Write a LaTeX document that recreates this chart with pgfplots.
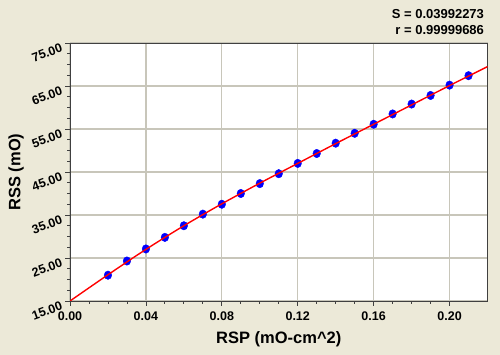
\documentclass[border=0pt]{standalone}
\usepackage{pgfplots}
\pgfplotsset{compat=1.18}
\usepackage{fontspec}
\setmainfont{Liberation Sans}
\definecolor{bgc}{RGB}{236,233,216}
\definecolor{gridc}{RGB}{200,198,186}
\definecolor{framec}{RGB}{64,64,64}
\begin{document}
\begin{tikzpicture}[x=1pt,y=1pt]
\fill[bgc] (0,0) rectangle (500,355);
\useasboundingbox (0,0) rectangle (500,355);
\begin{axis}[
  at={(70pt,54pt)}, anchor=south west,
  width=417.5pt, height=258pt, scale only axis,
  xmin=0, xmax=0.22, ymin=15, ymax=75,
  axis background/.style={fill=white},
  axis line style={framec, line width=0.9pt},
  xtick={0,0.04,0.08,0.12,0.16,0.20},
  minor x tick num=3,
  ytick={15,25,35,45,55,65,75},
  minor y tick num=3,
  xtick pos=left, ytick pos=left,
  tick align=outside,
  major tick length=5pt, minor tick length=3pt,
  every tick/.style={framec, line width=0.8pt},
  grid=major,
  major grid style={gridc, line width=1.3pt},
  /pgf/number format/assume math mode=true,
  xticklabel style={/pgf/number format/.cd, fixed, fixed zerofill, precision=2, /tikz/.cd, font=\fontsize{12.5}{15}\selectfont\bfseries, yshift=-2pt},
  yticklabel style={/pgf/number format/.cd, fixed, fixed zerofill, precision=2, /tikz/.cd, font=\fontsize{12.5}{15}\selectfont\bfseries, rotate=20, anchor=east, xshift=-1pt, yshift=-3pt},
  xlabel={RSP (mO-cm\^{}2)},
  ylabel={RSS (mO)},
  xlabel style={font=\fontsize{16.5}{19}\selectfont\bfseries, at={(axis description cs:0.5,-0.147)}, anchor=center},
  ylabel style={font=\fontsize{16.5}{19}\selectfont\bfseries, at={(axis description cs:-0.129,0.5)}, anchor=center, rotate=0},
  clip mode=individual,
]
\addplot[only marks, mark=*, mark size=3.8pt, color=blue, mark options={fill=blue, draw=blue, yscale=1.12}] coordinates {
(0.02,21.0) (0.03,24.3) (0.04,27.1) (0.05,29.8) (0.06,32.5)
(0.07,35.2) (0.08,37.5) (0.09,40.0) (0.10,42.3) (0.11,44.6)
(0.12,47.0) (0.13,49.3) (0.14,51.7) (0.15,54.0) (0.16,56.1)
(0.17,58.5) (0.18,60.8) (0.19,62.8) (0.20,65.2) (0.21,67.4)
};
\addplot[red, line width=1.4pt, smooth] coordinates {
(0,15.0) (0.02,21.1) (0.04,27.0) (0.06,32.5) (0.08,37.6) (0.10,42.4)
(0.12,47.0) (0.14,51.6) (0.16,56.1) (0.18,60.6) (0.20,65.1) (0.22,69.5)
};
\node[anchor=east, font=\fontsize{13}{15}\selectfont\bfseries] at (axis description cs:1.0,1.111) {S = 0.03992273};
\node[anchor=east, font=\fontsize{13}{15}\selectfont\bfseries] at (axis description cs:1.0,1.050) {r = 0.99999686};
\end{axis}
\end{tikzpicture}
\end{document}
